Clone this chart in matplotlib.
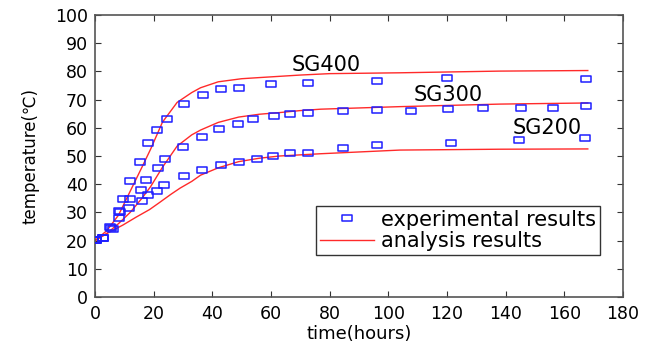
import numpy as np
import matplotlib
matplotlib.use("Agg")
import matplotlib.pyplot as plt
from matplotlib.path import Path

plt.rcParams["font.family"] = ["DejaVu Sans"]

sg400_t = [0.5, 2.6, 5.0, 8.1, 9.5, 11.9, 15.2, 18.2, 21.3, 24.4, 30.5, 36.8,
           42.8, 49.1, 60.1, 72.6, 96.0, 120.0, 167.4]
sg400_T = [20.1, 20.8, 24.7, 30.5, 34.8, 41.1, 48.0, 54.6, 59.2, 63.1, 68.6, 71.6,
           73.6, 74.2, 75.4, 76.0, 76.6, 77.8, 77.4]

sg300_t = [0.5, 2.6, 6.3, 8.4, 11.8, 15.7, 17.5, 21.5, 23.9, 30.0, 36.6, 42.3,
           48.6, 53.9, 61.0, 66.4, 72.6, 84.6, 96.0, 107.7, 120.4, 132.4, 145.2,
           156.2, 167.4]
sg300_T = [20.1, 20.8, 24.0, 30.2, 34.6, 37.9, 41.5, 45.6, 48.9, 53.3, 56.6, 59.5,
           61.3, 63.0, 64.2, 64.9, 65.4, 66.0, 66.3, 66.1, 66.8, 67.1, 67.1,
           67.1, 67.7]

sg200_t = [0.5, 2.6, 5.5, 8.1, 11.7, 16.0, 18.1, 21.2, 23.6, 30.2, 36.6, 42.8,
           49.1, 55.2, 60.7, 66.4, 72.6, 84.6, 96.0, 121.2, 144.6, 167.1]
sg200_T = [20.1, 20.8, 24.6, 27.9, 31.5, 34.0, 36.2, 37.6, 39.7, 42.9, 45.0, 46.8,
           47.9, 48.9, 50.1, 51.0, 51.2, 52.7, 53.9, 54.7, 55.8, 56.4]

# ── Analysis curves ───────────────────────────────────────────────────
fit400_t = [0, 4, 8, 12, 16, 19, 23, 28, 33, 36, 42, 50, 56, 70, 80, 104, 138, 168]
fit400_T = [20, 23.5, 29, 37.5, 46, 52.5, 62, 69, 72.5, 74.2, 76.3, 77.4, 77.8,
            78.7, 79.2, 79.5, 80.1, 80.3]

fit300_t = [0, 4, 8, 12, 16, 19, 23, 28, 33, 36, 42, 49, 56, 63, 70, 77, 104, 138, 168]
fit300_T = [20, 22.5, 26, 30, 35, 39.2, 46, 53.5, 57.5, 59.2, 61.9, 63.8, 64.8,
            65.4, 66.1, 66.6, 67.5, 68.4, 68.8]

fit200_t = [0, 4, 9.5, 14, 18.6, 22, 26, 29, 33, 36, 42, 49, 56, 63, 77, 104, 138, 168]
fit200_T = [20, 22.5, 25.5, 28.3, 31, 33.5, 36.5, 38.6, 41, 43.2, 45.8, 48.0,
            49.2, 50.0, 50.8, 52.1, 52.4, 52.5]

labels = ["SG400", "SG300", "SG200"]
label_pos = [(78.7, 82.4), (120.3, 71.6), (154.1, 59.8)]

# wide rectangle marker (the original figure is stretched horizontally)
rect = Path([(-0.8, -0.5), (0.8, -0.5), (0.8, 0.5), (-0.8, 0.5), (-0.8, -0.5)],
            [Path.MOVETO, Path.LINETO, Path.LINETO, Path.LINETO, Path.CLOSEPOLY])

blue = "#1f1fff"
red = "#ff2a2a"

fig = plt.figure(figsize=(6.56, 3.42), dpi=100)
ax = fig.add_axes([0.1448, 0.1316, 0.8049, 0.8246])

exp_sets = [(sg400_t, sg400_T), (sg300_t, sg300_T), (sg200_t, sg200_T)]
fit_sets = [(fit400_t, fit400_T), (fit300_t, fit300_T), (fit200_t, fit200_T)]

for i, (t, T) in enumerate(exp_sets):
    ax.plot(t, T, linestyle="none", marker=rect, markersize=7.5,
            markerfacecolor="none", markeredgecolor=blue, markeredgewidth=1.1,
            label="experimental results" if i == 0 else None, zorder=3)

for i, (t, T) in enumerate(fit_sets):
    ax.plot(t, T, color=red, linewidth=1.0,
            label="analysis results" if i == 0 else None, zorder=2)

for name, (x, y) in zip(labels, label_pos):
    ax.text(x, y, name, ha="center", va="center", fontsize=15)

ax.set_xlim(0, 180)
ax.set_ylim(0, 100)
ax.set_xticks(np.arange(0, 181, 20))
ax.set_yticks(np.arange(0, 101, 10))
ax.tick_params(direction="in", top=True, right=True, labelsize=12.5,
               length=4, width=0.8, colors="#333333", labelcolor="black")
ax.tick_params(axis="y", pad=5)
ax.tick_params(axis="x", pad=6)
for s in ax.spines.values():
    s.set_color("#555555")
    s.set_linewidth(1.2)

ax.set_xlabel("time(hours)", fontsize=13, labelpad=1)
ax.set_ylabel("temperature(\u2103)", fontsize=12, labelpad=11)

leg = ax.legend(loc="lower right", bbox_to_anchor=(0.956, 0.149), fontsize=15,
                frameon=True, fancybox=False, framealpha=1, edgecolor="#333333",
                handlelength=2.6, handletextpad=0.3, borderpad=0.2,
                labelspacing=0.05, borderaxespad=0)
leg.get_frame().set_linewidth(1.0)

plt.savefig("out.png", dpi=100)
